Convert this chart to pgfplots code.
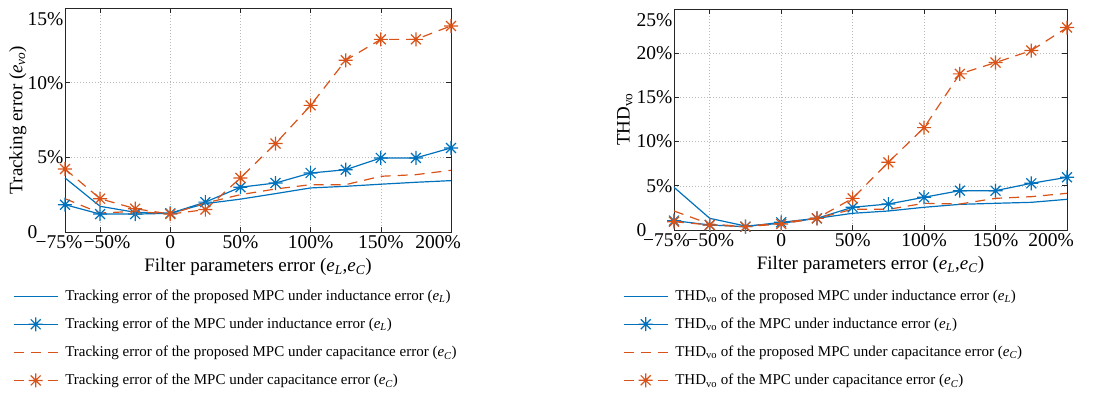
\documentclass[border=0pt]{standalone}
\usepackage{fontspec}
\setmainfont{Liberation Serif}
\usepackage{pgfplots}
\pgfplotsset{compat=1.18}
\definecolor{mblue}{RGB}{0,114,189}
\definecolor{morange}{RGB}{217,83,25}
\pgfdeclareplotmark{mstar}{%
  \pgfpathmoveto{\pgfqpoint{0pt}{\pgfplotmarksize}}%
  \pgfpathlineto{\pgfqpoint{0pt}{-\pgfplotmarksize}}%
  \pgfpathmoveto{\pgfqpoint{\pgfplotmarksize}{0pt}}%
  \pgfpathlineto{\pgfqpoint{-\pgfplotmarksize}{0pt}}%
  \pgfpathmoveto{\pgfqpoint{0.7071\pgfplotmarksize}{0.7071\pgfplotmarksize}}%
  \pgfpathlineto{\pgfqpoint{-0.7071\pgfplotmarksize}{-0.7071\pgfplotmarksize}}%
  \pgfpathmoveto{\pgfqpoint{0.7071\pgfplotmarksize}{-0.7071\pgfplotmarksize}}%
  \pgfpathlineto{\pgfqpoint{-0.7071\pgfplotmarksize}{0.7071\pgfplotmarksize}}%
  \pgfusepathqstroke}
\newcommand\tickfont{\fontsize{19.5pt}{21pt}\selectfont}
\newcommand\labfont{\fontsize{19pt}{21pt}\selectfont}
\newcommand\legfont{\fontsize{15pt}{17pt}\selectfont}
\newcommand\ee[1]{{\itshape e}\textsubscript{\itshape #1}}
\newcommand\dn[1]{\raisebox{-11pt}[\height][\depth]{#1}}
\newcommand\gap[1]{\rule{#1}{0pt}}
\pgfplotsset{
  mpcax/.style={
    scale only axis, clip=false,
    xmin=-75, xmax=200,
    xtick={-75,-50,0,50,100,150,200},
    tick align=inside, major tick length=5pt,
    axis line style={black!85, line width=0.6pt},
    tick style={black!85, line width=0.6pt},
    grid=major,
    major grid style={gray!55, line width=0.5pt, dash pattern=on 1pt off 2pt},
    ticklabel style={font=\tickfont},
    yticklabel style={inner sep=1.5pt},
    label style={font=\labfont},
    legend style={draw=none, fill=none, font=\legfont, row sep=12pt,
      cells={anchor=west}, inner sep=0pt,
      /tikz/every odd column/.append style={column sep=5pt}},
    legend cell align=left,
    legend image code/.code={\draw[mark repeat=2,mark phase=2,##1] plot coordinates {(0pt,0pt) (22pt,0pt) (44pt,0pt)};},
  },
  pl/.style={color=mblue, line width=1.2pt},
  ml/.style={color=mblue, line width=1.2pt, mark=mstar, mark size=7pt, mark options={solid, line width=1.2pt}},
  pc/.style={color=morange, line width=1.2pt, dash pattern=on 10pt off 7pt},
  mc/.style={color=morange, line width=1.2pt, dash pattern=on 10pt off 7pt, mark=mstar, mark size=7pt, mark options={solid, line width=1.2pt}},
}
\pgfplotstableread{
x    PL    ML    PC    MC
-75  3.62  1.83  2.23  4.22
-50  1.72  1.20  1.27  2.23
-25  1.32  1.20  1.38  1.56
0    1.25  1.25  1.20  1.20
25   1.90  2.00  1.94  1.50
50   2.20  3.00  2.50  3.62
75   2.57  3.28  2.88  5.92
100  2.95  3.95  3.17  8.48
125  3.06  4.17  3.17  11.50
150  3.20  4.96  3.73  12.90
175  3.33  4.96  3.84  12.90
200  3.44  5.63  4.13  13.80
}\trk
\pgfplotstableread{
x    PL    ML    PC    MC
-75  4.83  1.06  2.15  0.94
-50  1.32  0.57  0.68  0.57
-25  0.45  0.38  0.38  0.38
0    0.75  0.87  0.83  0.68
25   1.32  1.32  1.32  1.32
50   1.89  2.57  2.34  3.58
75   2.15  2.94  2.34  7.66
100  2.57  3.70  3.02  11.58
125  2.90  4.45  2.94  17.66
150  3.02  4.45  3.58  18.94
175  3.13  5.28  3.77  20.30
200  3.47  5.96  4.15  22.90
}\thd
\begin{document}
\begin{tikzpicture}
\useasboundingbox (0,0) rectangle (1104pt,396pt);
\begin{axis}[mpcax,
  at={(65pt,164pt)}, anchor=south west,
  width=386pt, height=224pt,
  xticklabels={−75\%\gap{12pt},\gap{14pt}−50\%,0,50\%,100\%,150\%,200\%\gap{26pt}},
  ymin=0, ymax=15, ytick={0,5,10,15},
  yticklabels={0\hphantom{5\%},5\%,10\%,\dn{15\%}},
  xlabel={Filter parameters error (\ee{L},\ee{C})},
  ylabel={Tracking error (\ee{vo})},
  xlabel style={at={(axis description cs:0.5,-0.156)}, anchor=center},
  ylabel style={at={(axis description cs:-0.122,0.5)}, anchor=center},
  legend style={at={(axis description cs:-0.135,-0.25)}, anchor=north west},
]
\addplot[pl] table[x=x,y=PL] {\trk};
\addlegendentry{Tracking error of the proposed MPC under inductance error (\ee{L})}
\addplot[ml] table[x=x,y=ML] {\trk};
\addlegendentry{Tracking error of the MPC under inductance error (\ee{L})}
\addplot[pc] table[x=x,y=PC] {\trk};
\addlegendentry{Tracking error of the proposed MPC under capacitance error (\ee{C})}
\addplot[mc] table[x=x,y=MC] {\trk};
\addlegendentry{Tracking error of the MPC under capacitance error (\ee{C})}
\end{axis}
\begin{axis}[mpcax,
  at={(674pt,166pt)}, anchor=south west,
  width=393pt, height=221pt,
  xticklabels={−75\%\gap{15pt},\gap{2pt}−50\%,0,50\%,100\%,150\%,200\%\gap{32pt}},
  ymin=0, ymax=25, ytick={0,5,10,15,20,25},
  yticklabels={0\hphantom{5\%},5\%,10\%,15\%,20\%,\dn{25\%}},
  xlabel={Filter parameters error (\ee{L},\ee{C})},
  ylabel={THD\textsubscript{vo}},
  xlabel style={at={(axis description cs:0.5,-0.158)}, anchor=center},
  ylabel style={at={(axis description cs:-0.125,0.5)}, anchor=center},
  legend style={at={(axis description cs:-0.13,-0.262)}, anchor=north west},
]
\addplot[pl] table[x=x,y=PL] {\thd};
\addlegendentry{THD\textsubscript{vo} of the proposed MPC under inductance error (\ee{L})}
\addplot[ml] table[x=x,y=ML] {\thd};
\addlegendentry{THD\textsubscript{vo} of the MPC under inductance error (\ee{L})}
\addplot[pc] table[x=x,y=PC] {\thd};
\addlegendentry{THD\textsubscript{vo} of the proposed MPC under capacitance error (\ee{C})}
\addplot[mc] table[x=x,y=MC] {\thd};
\addlegendentry{THD\textsubscript{vo} of the MPC under capacitance error (\ee{C})}
\end{axis}
\end{tikzpicture}
\end{document}
